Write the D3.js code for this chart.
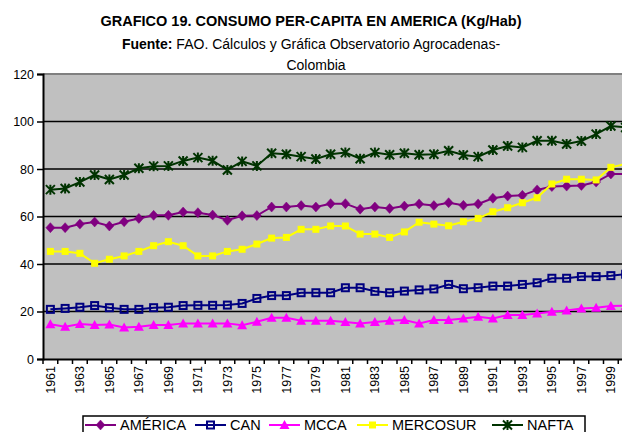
<!DOCTYPE html>
<html>
<head>
<meta charset="utf-8">
<script src="https://cdn.jsdelivr.net/npm/d3@7"></script>
<style>
    body { margin: 0; background: #fff; }
    svg { display: block; font-family: "Liberation Sans", Arial, sans-serif; }
</style>
</head>
<body>
<svg id="chart" width="622" height="432"></svg>
<script>
/*globals d3*/

var years = d3.range(1961, 2001);

var america = [55.3, 55.3, 56.8, 57.7, 56.0, 57.8, 59.2, 60.5, 60.5, 61.9,
    61.6, 60.6, 58.4, 60.3, 60.4, 64.0, 64.0, 64.6, 64.0, 65.4,
    65.4, 63.1, 64.0, 63.4, 64.4, 65.3, 64.6, 65.8, 64.7, 65.3,
    67.7, 68.6, 68.9, 71.2, 72.6, 72.8, 73.1, 74.5, 77.9, 77.9];
var can = [20.9, 21.3, 21.8, 22.5, 21.6, 20.9, 20.9, 21.6, 21.8, 22.5,
    22.6, 22.6, 22.7, 23.4, 25.5, 26.7, 26.7, 27.9, 27.9, 27.9,
    30.0, 30.0, 28.5, 27.9, 28.6, 29.1, 29.5, 31.4, 29.6, 30.0,
    30.7, 30.7, 31.4, 32.1, 34.0, 34.0, 34.7, 34.7, 35.1, 35.7];
var mcca = [14.6, 13.6, 14.7, 14.3, 14.5, 13.3, 13.6, 14.3, 14.3, 15.0,
    15.0, 15.0, 15.0, 14.2, 15.7, 17.4, 17.4, 16.1, 16.1, 16.1,
    15.6, 15.0, 15.6, 16.1, 16.4, 15.0, 16.4, 16.4, 17.1, 17.8,
    17.1, 18.5, 18.5, 19.2, 19.9, 20.4, 21.3, 21.6, 22.3, 22.4];
var mercosur = [45.3, 45.3, 44.5, 40.3, 42.0, 43.4, 45.3, 47.7, 49.4, 47.7,
    43.4, 43.4, 45.3, 46.2, 48.4, 50.9, 51.2, 54.6, 54.6, 56.0,
    56.0, 52.6, 52.6, 51.2, 53.5, 57.6, 56.8, 56.1, 57.8, 59.2,
    62.0, 63.7, 65.8, 67.9, 73.7, 75.7, 75.7, 75.4, 80.7, 82.1];
var nafta = [71.3, 71.8, 74.5, 77.5, 75.6, 77.5, 80.3, 81.2, 81.3, 83.4,
    84.8, 83.5, 79.6, 83.2, 81.3, 86.6, 86.2, 85.2, 84.2, 86.2,
    86.9, 84.3, 86.9, 86.0, 86.6, 86.0, 86.2, 87.7, 85.9, 85.2,
    88.0, 89.7, 89.1, 91.9, 91.9, 90.5, 91.8, 94.7, 98.1, 97.5];

var seriesNames = ["AMÉRICA", "CAN", "MCCA", "MERCOSUR", "NAFTA"];
var yTicks = [0, 20, 40, 60, 80, 100, 120];

(function () {
    "use strict";

    var svg = d3.select("#chart"),
        left = 43,
        right = 633,
        top = 74,
        bottom = 359,
        x,
        y,
        series,
        plot,
        line,
        legend,
        legendPos;

    series = [
        {name: seriesNames[0], values: america, color: "#800080", marker: "diamond"},
        {name: seriesNames[1], values: can, color: "#000080", marker: "hollowSquare"},
        {name: seriesNames[2], values: mcca, color: "#ff00ff", marker: "triangle"},
        {name: seriesNames[3], values: mercosur, color: "#ffff00", marker: "square"},
        {name: seriesNames[4], values: nafta, color: "#003300", marker: "star"}
    ];

    x = d3.scaleBand().domain(years).range([left, right]);
    y = d3.scaleLinear().domain([0, 120]).range([bottom, top]);

    function cx(yr) {
        return x(yr) + x.bandwidth() / 2;
    }

    // marker drawing, centred on 0,0
    function drawMarker(g, type, color) {
        if (type === "diamond") {
            g.append("path").attr("d", "M0,-5L4.5,0L0,5L-4.5,0Z")
                .attr("fill", color).attr("stroke", color).attr("stroke-width", 0.5);
        } else if (type === "hollowSquare") {
            g.append("rect").attr("x", -3.5).attr("y", -3.5).attr("width", 7).attr("height", 7)
                .attr("fill", "none").attr("stroke", color).attr("stroke-width", 2);
        } else if (type === "triangle") {
            g.append("path").attr("d", "M0,-5L5,4L-5,4Z").attr("fill", color);
        } else if (type === "square") {
            g.append("rect").attr("x", -3.5).attr("y", -3.5).attr("width", 7).attr("height", 7)
                .attr("fill", color);
        } else if (type === "star") {
            g.append("path").attr("d", "M-4.5,-4.5L4.5,4.5M-4.5,4.5L4.5,-4.5M0,-5L0,5")
                .attr("stroke", color).attr("stroke-width", 2).attr("fill", "none");
        }
    }

    // titles
    svg.append("text")
        .attr("x", 311).attr("y", 26)
        .attr("text-anchor", "middle")
        .attr("font-size", "14.5px").attr("font-weight", "bold")
        .text("GRAFICO 19. CONSUMO PER-CAPITA EN AMERICA (Kg/Hab)");

    svg.append("text")
        .attr("x", 311).attr("y", 49)
        .attr("text-anchor", "middle")
        .attr("font-size", "14px")
        .call(function (t) {
            t.append("tspan").attr("font-weight", "bold").text("Fuente:");
            t.append("tspan").text(" FAO. Cálculos y Gráfica Observatorio Agrocadenas-");
        });

    svg.append("text")
        .attr("x", 316).attr("y", 70)
        .attr("text-anchor", "middle")
        .attr("font-size", "14px")
        .text("Colombia");

    // plot background
    svg.append("rect")
        .attr("x", left).attr("y", top)
        .attr("width", right - left).attr("height", bottom - top)
        .attr("fill", "#c0c0c0");

    svg.append("g").selectAll("line")
        .data(yTicks.filter(function (d) { return d > 0 && d < 120; }))
        .enter().append("line")
        .attr("x1", left).attr("x2", right)
        .attr("y1", function (d) { return y(d); })
        .attr("y2", function (d) { return y(d); })
        .attr("stroke", "#000").attr("stroke-width", 1.3);

    svg.append("line")
        .attr("x1", left).attr("x2", right)
        .attr("y1", y(120)).attr("y2", y(120))
        .attr("stroke", "#808080").attr("stroke-width", 2);

    // y axis
    svg.append("g")
        .attr("transform", "translate(" + left + ",0)")
        .call(d3.axisLeft(y).tickValues(yTicks).tickSize(6).tickPadding(3))
        .call(function (g) {
            g.select(".domain").attr("stroke-width", 2);
            g.selectAll(".tick line").attr("stroke-width", 1.5);
            g.selectAll("text").attr("font-size", "12.5px").attr("fill", "#000")
                .attr("font-family", "Liberation Sans, Arial, sans-serif");
        });

    // x axis: ticks between categories, labels every other year
    svg.append("g")
        .attr("transform", "translate(0," + bottom + ")")
        .call(d3.axisBottom(x).tickSize(0).tickPadding(0)
            .tickFormat(function (d) { return (d - 1961) % 2 === 0 ? String(d) : ""; }))
        .call(function (g) {
            g.select(".domain").attr("stroke-width", 2);
            g.selectAll("text")
                .attr("font-size", "12.5px").attr("fill", "#000")
                .attr("font-family", "Liberation Sans, Arial, sans-serif")
                .attr("text-anchor", "end")
                .attr("dy", "0.35em")
                .attr("transform", "translate(0,7) rotate(-90)");
        });

    svg.append("g").selectAll("line")
        .data(years)
        .enter().append("line")
        .attr("x1", function (d) { return x(d); })
        .attr("x2", function (d) { return x(d); })
        .attr("y1", bottom).attr("y2", bottom + 5)
        .attr("stroke", "#000").attr("stroke-width", 1.5);

    // lines and markers
    line = d3.line()
        .x(function (d, i) { return cx(years[i]); })
        .y(function (d) { return y(d); });

    plot = svg.append("g");
    series.forEach(function (s) {
        plot.append("path")
            .attr("d", line(s.values))
            .attr("fill", "none")
            .attr("stroke", s.color)
            .attr("stroke-width", 2);
        s.values.forEach(function (v, i) {
            var g = plot.append("g")
                .attr("transform", "translate(" + cx(years[i]) + "," + y(v) + ")");
            drawMarker(g, s.marker, s.color);
        });
    });

    // legend
    legend = svg.append("g");
    legend.append("rect")
        .attr("x", 83).attr("y", 416)
        .attr("width", 502).attr("height", 20)
        .attr("fill", "#fff").attr("stroke", "#000").attr("stroke-width", 1.5);

    legendPos = [85, 195, 269, 357, 492];
    series.forEach(function (s, i) {
        var lx = legendPos[i],
            g = legend.append("g");
        g.append("line")
            .attr("x1", lx).attr("x2", lx + 31)
            .attr("y1", 425).attr("y2", 425)
            .attr("stroke", s.color).attr("stroke-width", 2);
        drawMarker(g.append("g").attr("transform", "translate(" + (lx + 15.5) + ",425)"), s.marker, s.color);
        g.append("text")
            .attr("x", lx + 35).attr("y", 430)
            .attr("font-size", "14.5px")
            .text(s.name);
    });
}());
</script>
</body>
</html>
